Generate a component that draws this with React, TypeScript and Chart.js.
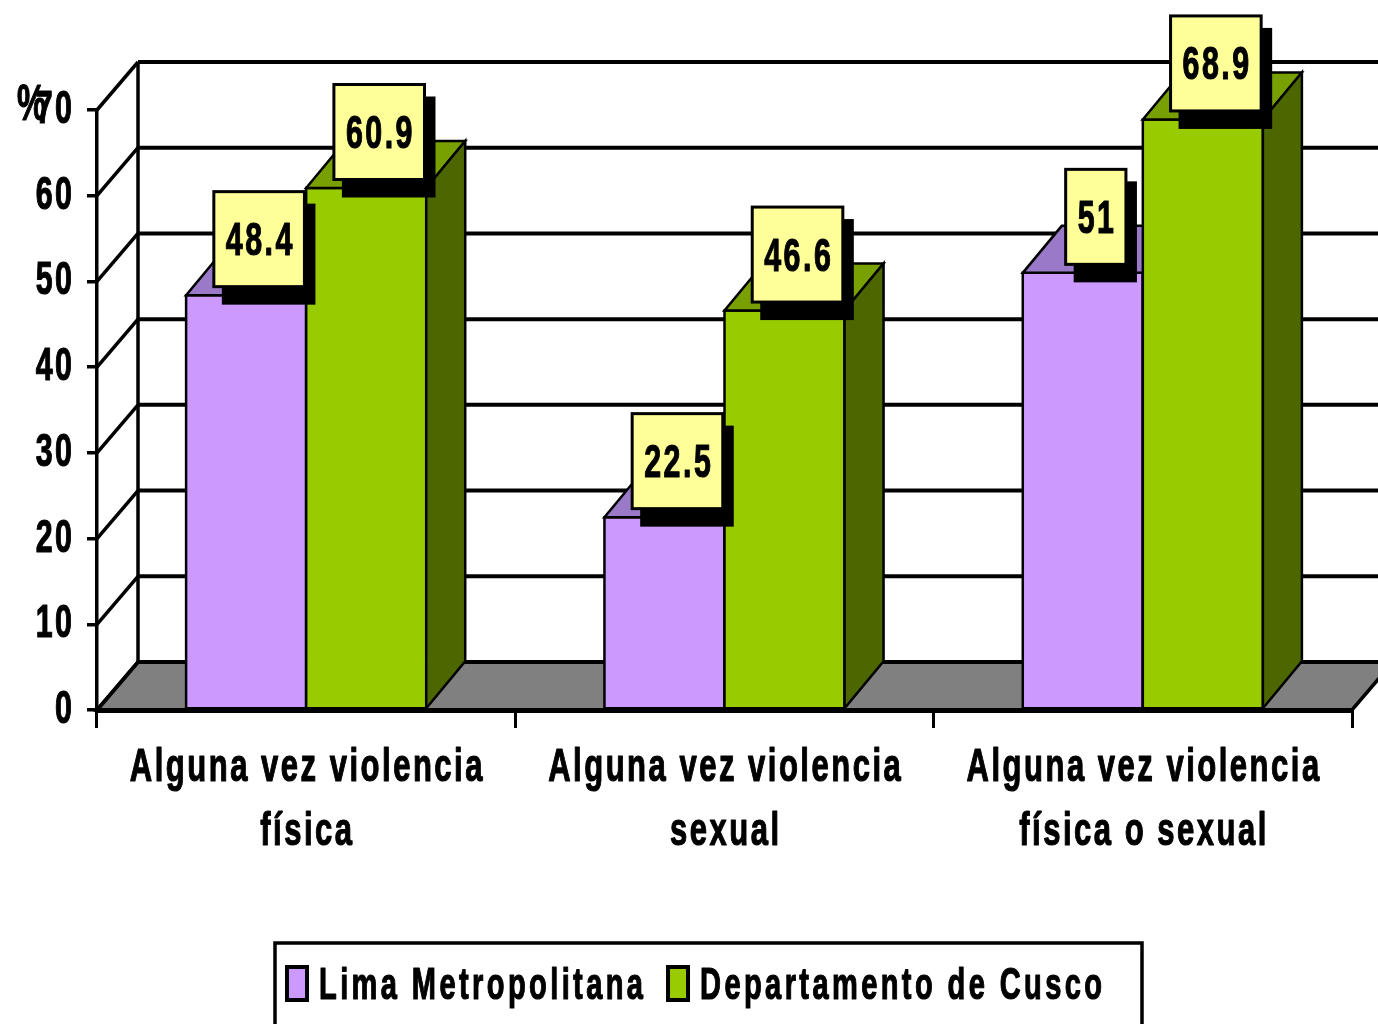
import React, { useEffect, useRef } from "react";
import { Chart, registerables } from "chart.js";

Chart.register(...registerables);

// ---- data ----
const categories: string[][] = [
  ["Alguna vez violencia", "física"],
  ["Alguna vez violencia", "sexual"],
  ["Alguna vez violencia", "física o sexual"],
];
const seriesNames = ["Lima Metropolitana", "Departamento de Cusco"];
const limaValues = [48.4, 22.5, 51];
const cuscoValues = [60.9, 46.6, 68.9];
const yMin = 0;
const yMax = 70;
const yStep = 10;
const yAxisTitle = "%";

// ---- style ----
const FRONT_COLORS = ["#CC99FF", "#99CC00"];
const TOP_COLORS = ["#9B79C9", "#78A000"];
const SIDE_COLORS = ["#664C80", "#4C6600"];
const WALL_DX = 41;
const WALL_DY = -48;
const BAR_DX = 39;
const BAR_DY = -47;
const SX = 0.66;
const FONT = '"Liberation Sans", Arial, sans-serif';

function measureNarrow(ctx: CanvasRenderingContext2D, text: string, size: number, spacing: number) {
  ctx.save();
  ctx.font = `bold ${size}px ${FONT}`;
  const ls = spacing / SX;
  (ctx as any).letterSpacing = `${ls}px`;
  const w = (ctx.measureText(text).width - ls) * SX;
  ctx.restore();
  return w;
}

function drawNarrow(
  ctx: CanvasRenderingContext2D,
  text: string,
  x: number,
  y: number,
  align: "left" | "center" | "right",
  size: number,
  spacing: number
) {
  const w = measureNarrow(ctx, text, size, spacing);
  let left = x;
  if (align === "center") left = x - w / 2;
  else if (align === "right") left = x - w;
  ctx.save();
  ctx.font = `bold ${size}px ${FONT}`;
  (ctx as any).letterSpacing = `${spacing / SX}px`;
  ctx.translate(left, y);
  ctx.scale(SX, 1);
  ctx.textAlign = "left";
  ctx.textBaseline = "alphabetic";
  ctx.fillStyle = "#000";
  ctx.strokeStyle = "#000";
  ctx.lineWidth = 1.2;
  ctx.lineJoin = "round";
  ctx.fillText(text, 0, 0);
  ctx.strokeText(text, 0, 0);
  ctx.restore();
  return w;
}

function poly(ctx: CanvasRenderingContext2D, pts: number[][], fill: string | null, lw: number) {
  ctx.beginPath();
  ctx.moveTo(pts[0][0], pts[0][1]);
  for (let i = 1; i < pts.length; i++) ctx.lineTo(pts[i][0], pts[i][1]);
  ctx.closePath();
  if (fill) {
    ctx.fillStyle = fill;
    ctx.fill();
  }
  ctx.lineWidth = lw;
  ctx.strokeStyle = "#000";
  ctx.lineJoin = "miter";
  ctx.stroke();
}

const threeDPlugin = {
  id: "threeD",
  beforeDraw(chart: any) {
    const { ctx, chartArea: ca, scales } = chart;
    const ys = scales.y;
    const y0 = ys.getPixelForValue(0);
    const left = ca.left;
    const right = ca.right;
    ctx.save();
    // floor
    poly(
      ctx,
      [
        [left, y0],
        [right, y0],
        [right + WALL_DX, y0 + WALL_DY],
        [left + WALL_DX, y0 + WALL_DY],
      ],
      "#808080",
      3.5
    );
    // back wall grid lines & left wall diagonals
    ctx.strokeStyle = "#000";
    ys.ticks.forEach((t: any) => {
      const py = ys.getPixelForValue(t.value);
      ctx.lineWidth = 4;
      ctx.beginPath();
      ctx.moveTo(left + WALL_DX, py + WALL_DY);
      ctx.lineTo(right + WALL_DX + 50, py + WALL_DY);
      ctx.stroke();
      ctx.lineWidth = 3.5;
      ctx.beginPath();
      ctx.moveTo(left, py);
      ctx.lineTo(left + WALL_DX, py + WALL_DY);
      ctx.stroke();
    });
    // back-left vertical edge
    ctx.lineWidth = 3.5;
    ctx.beginPath();
    ctx.moveTo(left + WALL_DX, ys.getPixelForValue(yMax) + WALL_DY);
    ctx.lineTo(left + WALL_DX, y0 + WALL_DY);
    ctx.stroke();
    ctx.restore();
  },
  afterDatasetsDraw(chart: any) {
    const { ctx } = chart;
    const metas = chart.data.datasets.map((_: any, i: number) => chart.getDatasetMeta(i));
    ctx.save();
    const n = chart.data.labels.length;
    for (let i = 0; i < n; i++) {
      metas.forEach((meta: any, d: number) => {
        const bar = meta.data[i];
        const { x, y, base, width } = bar.getProps(["x", "y", "base", "width"], true);
        const l = x - width / 2;
        const r = x + width / 2;
        // front
        poly(ctx, [[l, y], [r, y], [r, base], [l, base]], FRONT_COLORS[d], 2.5);
        // top
        poly(
          ctx,
          [
            [l, y],
            [r, y],
            [r + BAR_DX, y + BAR_DY],
            [l + BAR_DX, y + BAR_DY],
          ],
          TOP_COLORS[d],
          2.5
        );
        // side
        poly(
          ctx,
          [
            [r, y],
            [r + BAR_DX, y + BAR_DY],
            [r + BAR_DX, base + BAR_DY],
            [r, base],
          ],
          SIDE_COLORS[d],
          2.5
        );
      });
    }
    // value labels
    metas.forEach((meta: any, d: number) => {
      const values = chart.data.datasets[d].data;
      meta.data.forEach((bar: any, i: number) => {
        const { x, y } = bar.getProps(["x", "y"], true);
        const text = String(values[i]);
        const tw = measureNarrow(ctx, text, 46, 2.5);
        const bw = tw + 24;
        const bh = 95;
        const cx = x + 13;
        const cy = y - 56;
        const bl = cx - bw / 2;
        const bt = cy - bh / 2;
        ctx.fillStyle = "#000";
        ctx.fillRect(bl + 8, bt + 12, bw + 3, bh + 6);
        ctx.fillStyle = "#FFFF99";
        ctx.fillRect(bl, bt, bw, bh);
        ctx.lineWidth = 3;
        ctx.strokeStyle = "#000";
        ctx.strokeRect(bl, bt, bw, bh);
        drawNarrow(ctx, text, cx, cy + 16, "center", 46, 2.5);
      });
    });
    ctx.restore();
  },
  afterDraw(chart: any) {
    const { ctx, chartArea: ca, scales } = chart;
    const ys = scales.y;
    const xs = scales.x;
    // y tick labels
    ys.ticks.forEach((t: any) => {
      drawNarrow(ctx, String(t.value), ca.left - 25, ys.getPixelForValue(t.value) + 13, "right", 46, 2.5);
    });
    // axis title
    drawNarrow(ctx, yAxisTitle, 17, 120, "left", 50, 0);
    // category labels
    const labels = xs.getLabels();
    labels.forEach((lab: any, i: number) => {
      const cx = xs.getPixelForValue(i);
      const lines = Array.isArray(lab) ? lab : [lab];
      lines.forEach((line: string, k: number) => {
        drawNarrow(ctx, line, cx, ca.bottom + 71 + k * 64, "center", 47, 2.5);
      });
    });
    // legend
    ctx.save();
    ctx.lineWidth = 3.5;
    ctx.strokeStyle = "#000";
    ctx.strokeRect(275, 943, 867, 120);
    let lx = 287;
    chart.data.datasets.forEach((ds: any, d: number) => {
      ctx.fillStyle = FRONT_COLORS[d];
      ctx.fillRect(lx, 967, 20, 33);
      ctx.lineWidth = 4;
      ctx.strokeStyle = "#000";
      ctx.strokeRect(lx, 967, 20, 33);
      const w = drawNarrow(ctx, ds.label, lx + 32, 999, "left", 44, 3.4);
      lx = lx + 32 + w + 25;
    });
    ctx.restore();
  },
};

export default function App() {
  const ref = useRef<HTMLCanvasElement | null>(null);
  useEffect(() => {
    if (!ref.current) return;
    const chart = new Chart(ref.current, {
      type: "bar",
      data: {
        labels: categories as any,
        datasets: [
          {
            label: seriesNames[0],
            data: limaValues,
            backgroundColor: FRONT_COLORS[0],
            borderColor: "#000",
            borderWidth: 2,
            categoryPercentage: 0.574,
            barPercentage: 1,
          },
          {
            label: seriesNames[1],
            data: cuscoValues,
            backgroundColor: FRONT_COLORS[1],
            borderColor: "#000",
            borderWidth: 2,
            categoryPercentage: 0.574,
            barPercentage: 1,
          },
        ],
      },
      options: {
        responsive: false,
        animation: false,
        layout: { padding: { top: 110, right: 26, left: 0, bottom: 0 } },
        plugins: { legend: { display: false }, tooltip: { enabled: false } },
        scales: {
          x: {
            ticks: { display: false },
            grid: {
              display: true,
              drawOnChartArea: false,
              drawTicks: true,
              tickLength: 18,
              color: "#000",
              lineWidth: 3,
              offset: true,
            },
            border: { display: true, color: "#000", width: 5 },
            afterFit: (s: any) => {
              s.height = 314;
            },
          },
          y: {
            min: yMin,
            max: yMax,
            ticks: { display: false, stepSize: yStep },
            grid: { drawOnChartArea: false, tickLength: 10, color: "#000", lineWidth: 3.5 },
            border: { display: true, color: "#000", width: 3.5 },
            afterFit: (s: any) => {
              s.width = 97;
            },
          },
        },
      },
      plugins: [threeDPlugin],
    } as any);
    return () => chart.destroy();
  }, []);
  return (
    <canvas
      ref={ref}
      width={1378}
      height={1024}
      style={{ display: "block", position: "absolute", left: 0, top: 0, background: "#fff" }}
    />
  );
}
